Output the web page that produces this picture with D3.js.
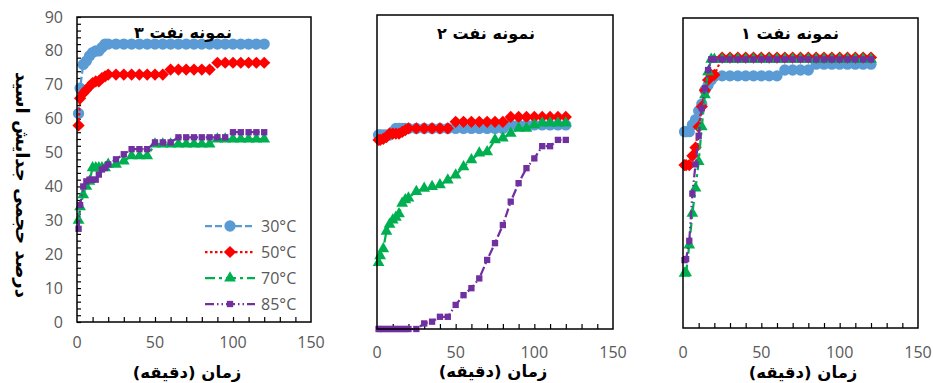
<!DOCTYPE html>
<html>
<head>
<meta charset="utf-8">
<script src="https://cdn.jsdelivr.net/npm/d3@7"></script>
<style>
  body { margin: 0; background: #fff; }
  svg { display: block; }
</style>
</head>
<body>
<div id="chart"></div>
<script>
// sampling times (min), shared by all three panels
const times = [1, 2, 4, 6, 8, 10, 12, 14, 16, 18, 20, 25, 30, 35, 40, 45, 50, 55, 60, 65, 70, 75, 80, 85, 90, 95, 100, 105, 110, 115, 120];
const temps = ["30°C", "50°C", "70°C", "85°C"];
const titles = ["نمونه نفت ۳", "نمونه نفت ۲", "نمونه نفت ۱"];
const xTitle = "زمان (دقیقه)";
const yTitle = "درصد حجمی جدایش اسید";
const xTickLabels = [0, 50, 100, 150];
const yTickLabels = [0, 10, 20, 30, 40, 50, 60, 70, 80, 90];

// نمونه نفت ۳
const s3_30 = [61.5, 69, 76, 77, 78.5, 79.5, 80, 80, 81, 82, 82, 82, 82, 82, 82, 82, 82, 82, 82, 82, 82, 82, 82, 82, 82, 82, 82, 82, 82, 82, 82];
const s3_50 = [58, 66, 67.5, 68.5, 69.5, 70.5, 71, 71, 72, 72.5, 73, 73, 73, 73, 73, 73, 73, 73, 74.5, 74.5, 74.5, 74.5, 74.5, 74.5, 76.5, 76.5, 76.5, 76.5, 76.5, 76.5, 76.5];
const s3_70 = [30, 34, 37.5, 40, 41.5, 45.5, 45.5, 45.5, 45.5, 45.5, 46.5, 46.5, 47.5, 49, 49, 49, 52.5, 52.5, 52.5, 52.5, 52.5, 52.5, 52.5, 52.5, 54, 54, 54, 54, 54, 54, 54];
const s3_85 = [27.5, 34.5, 40, 41.5, 42, 42, 42, 43.5, 45, 45.5, 46.5, 48, 49.5, 51, 51, 51, 53, 53, 53, 54.5, 54.5, 54.5, 54.5, 54.5, 54.5, 54.5, 56, 56, 56, 56, 56];

// نمونه نفت ۲
const s2_30 = [55.6, 55.6, 55.6, 55.6, 55.6, 56.5, 57.5, 57.5, 57.5, 57.5, 57.5, 57.5, 57.5, 57.5, 57.5, 57.5, 57.5, 57.5, 57.5, 57.5, 57.5, 57.5, 57.5, 58.5, 58.5, 58.5, 58.5, 58.5, 58.5, 58.5, 58.5];
const s2_50 = [54.2, 54.2, 54.5, 55, 56, 56, 56, 56, 56.5, 57, 57.5, 57.5, 57.5, 57.5, 57.5, 57.5, 59.4, 59.4, 59.4, 59.4, 59.4, 59.4, 59.4, 60.8, 60.8, 60.8, 60.8, 60.8, 60.8, 60.8, 60.8];
const s2_70 = [19, 21, 23, 28, 30, 31.2, 32, 33, 36, 37, 37.5, 39.4, 40.3, 40.8, 41.3, 42.7, 44.1, 46.5, 48.5, 50.4, 50.8, 54.2, 54.7, 56.1, 57.5, 57.5, 58.5, 59, 59, 59, 59];
const s2_85 = [0, 0, 0, 0, 0, 0, 0, 0, 0, 0, 0, 0, 1.6, 2.1, 3.5, 3.5, 6.9, 9.7, 11.7, 14.5, 19.8, 24.6, 29.8, 36.5, 41.8, 46.1, 48.9, 52.4, 52.4, 54.2, 54.2];

// نمونه نفت ۱
const s1_30 = [57, 57, 57, 59, 60.5, 63, 65, 69, 70.5, 72, 73, 73.2, 73.2, 73.2, 73.2, 73.2, 73.2, 73.2, 73.2, 74.9, 74.9, 74.9, 74.9, 76.6, 76.6, 76.6, 76.6, 76.6, 76.6, 76.6, 76.6];
const s1_50 = [47.3, 47.3, 47.3, 50, 52.4, 58.4, 64.3, 69, 72, 73.5, 73.5, 78.5, 78.5, 78.5, 78.5, 78.5, 78.5, 78.5, 78.5, 78.5, 78.5, 78.5, 78.5, 78.5, 78.5, 78.5, 78.5, 78.5, 78.5, 78.5, 78.5];
const s1_70 = [15.9, 16, 24.1, 33.3, 40.6, 48.3, 58.4, 67.7, 74.4, 78, 78, 78, 78, 78, 78, 78, 78, 78, 78, 78, 78, 78, 78, 78, 78, 78, 78, 78, 78, 78, 78];
const s1_85 = [19.7, 20, 25.3, 39, 47.5, 55.8, 63.8, 69.6, 74.9, 78, 78, 78, 78, 78, 78, 78, 78, 78, 78, 78, 78, 78, 78, 78, 78, 78, 78, 78, 78, 78, 78];

const W = 933, H = 383;
const colors = ["#5B9BD5", "#FF0000", "#00B050", "#7030A0"];
const dashes = ["7,3", "2.5,2.5", "10,4,3,4", "9,3,1.5,3,1.5,3"];
const faFont = "'DejaVu Sans', sans-serif";
const numFont = "'Open Sans', 'Liberation Sans', sans-serif";
const grey = "#595959";

// excel style diamond (square turned 45 deg)
const diamond = {
  draw(ctx, size) {
    const r = Math.sqrt(size / 2);
    ctx.moveTo(0, -r); ctx.lineTo(r, 0); ctx.lineTo(0, r); ctx.lineTo(-r, 0); ctx.closePath();
  }
};
const symbols = [
  d3.symbol(d3.symbolCircle, 100),
  d3.symbol(diamond, 75),
  d3.symbol(d3.symbolTriangle, 60),
  d3.symbol(d3.symbolSquare, 40)
];

const panels = [
  { title: titles[0], series: [s3_30, s3_50, s3_70, s3_85], x0: 77, x1: 311, y0: 17, y1: 322, tickY: 342, titleX: 183, titleY: 32, labelX: 187, labelY: 372, yAxis: true, legend: true },
  { title: titles[1], series: [s2_30, s2_50, s2_70, s2_85], x0: 377, x1: 613, y0: 15, y1: 329, tickY: 352, titleX: 486, titleY: 33, labelX: 493, labelY: 371 },
  { title: titles[2], series: [s1_30, s1_50, s1_70, s1_85], x0: 683, x1: 918, y0: 18, y1: 328, tickY: 352, titleX: 790, titleY: 33, labelX: 803, labelY: 372 }
];

const svg = d3.select("#chart").append("svg")
  .attr("width", W)
  .attr("height", H);

panels.forEach(p => {
  const x = d3.scaleLinear().domain([0, 150]).range([p.x0, p.x1]);
  const y = d3.scaleLinear().domain([0, 90]).range([p.y1, p.y0]);
  const g = svg.append("g");

  // inner ticks on the time axis
  g.append("g")
    .attr("transform", "translate(0," + p.y1 + ")")
    .call(d3.axisBottom(x).tickValues(d3.range(10, 150, 10)).tickSize(-5).tickFormat(""))
    .call(a => a.select(".domain").remove())
    .selectAll("line").attr("stroke", "#000").attr("stroke-width", 1.2);

  g.selectAll(".xlab")
    .data(xTickLabels)
    .enter().append("text")
    .attr("x", d => x(d))
    .attr("y", p.tickY)
    .attr("dy", "0.35em")
    .attr("text-anchor", "middle")
    .attr("font-family", numFont)
    .attr("font-size", 16)
    .attr("fill", grey)
    .text(d => d);

  if (p.yAxis) {
    g.append("g")
      .attr("transform", "translate(" + p.x0 + ",0)")
      .call(d3.axisLeft(y).tickValues(d3.range(0, 91, 2)).tickSize(-4).tickFormat(""))
      .call(a => a.select(".domain").remove())
      .selectAll("line").attr("stroke", "#000").attr("stroke-width", 1.2);

    g.selectAll(".ylab")
      .data(yTickLabels)
      .enter().append("text")
      .attr("x", p.x0 - 14)
      .attr("y", d => y(d))
      .attr("dy", "0.35em")
      .attr("text-anchor", "end")
      .attr("font-family", numFont)
      .attr("font-size", 16)
      .attr("fill", grey)
      .text(d => d);
  }

  // series: line then markers, in excel order
  p.series.forEach((vals, i) => {
    const pts = times.map((t, k) => ({ t: t, v: vals[k] }));
    const line = d3.line().x(d => x(d.t)).y(d => y(d.v));
    g.append("path")
      .datum(pts)
      .attr("fill", "none")
      .attr("stroke", colors[i])
      .attr("stroke-width", 2.25)
      .attr("stroke-dasharray", dashes[i])
      .attr("d", line);
    g.selectAll(".m" + i)
      .data(pts)
      .enter().append("path")
      .attr("transform", d => "translate(" + x(d.t) + "," + y(d.v) + ")")
      .attr("fill", colors[i])
      .attr("d", symbols[i]);
  });

  // plot frame
  g.append("rect")
    .attr("x", p.x0).attr("y", p.y0)
    .attr("width", p.x1 - p.x0).attr("height", p.y1 - p.y0)
    .attr("fill", "none")
    .attr("stroke", "#000")
    .attr("stroke-width", 1.5);

  g.append("text")
    .attr("x", p.titleX).attr("y", p.titleY)
    .attr("dy", "0.35em")
    .attr("text-anchor", "middle")
    .attr("font-family", faFont)
    .attr("font-weight", "bold")
    .attr("font-size", 16)
    .text(p.title);

  g.append("text")
    .attr("x", p.labelX).attr("y", p.labelY)
    .attr("dy", "0.35em")
    .attr("text-anchor", "middle")
    .attr("font-family", faFont)
    .attr("font-weight", "bold")
    .attr("font-size", 16.5)
    .text(xTitle + "\u200F");

  if (p.legend) {
    const lg = g.append("g");
    temps.forEach((name, i) => {
      const ly = 226 + i * 26;
      lg.append("line")
        .attr("x1", 205).attr("x2", 255)
        .attr("y1", ly).attr("y2", ly)
        .attr("stroke", colors[i])
        .attr("stroke-width", 2.25)
        .attr("stroke-dasharray", dashes[i]);
      lg.append("path")
        .attr("transform", "translate(230," + ly + ")")
        .attr("fill", colors[i])
        .attr("d", symbols[i]);
      lg.append("text")
        .attr("x", 261).attr("y", ly)
        .attr("dy", "0.35em")
        .attr("font-family", numFont)
        .attr("font-size", 16)
        .attr("fill", grey)
        .text(name);
    });
  }
});

svg.append("text")
  .attr("transform", "translate(22,185) rotate(90)")
  .attr("text-anchor", "middle")
  .attr("dy", "0.35em")
  .attr("font-family", faFont)
  .attr("font-weight", "bold")
  .attr("font-size", 18)
  .text(yTitle);
</script>
</body>
</html>
